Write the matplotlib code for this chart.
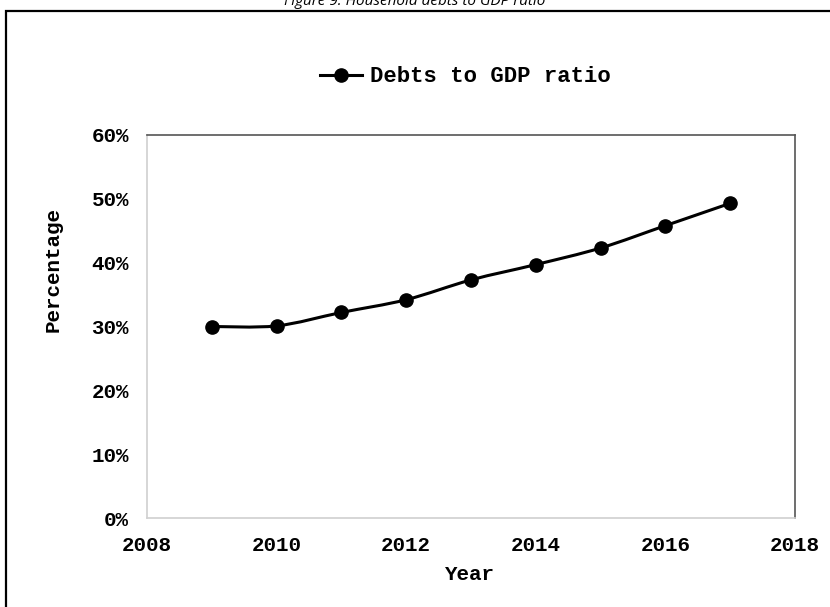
import numpy as np
import matplotlib
matplotlib.use("Agg")
import matplotlib.pyplot as plt
from matplotlib.path import Path
from matplotlib.patches import PathPatch, Rectangle
from matplotlib.lines import Line2D
from matplotlib.ticker import FuncFormatter

# data
years = [2009, 2010, 2011, 2012, 2013, 2014, 2015, 2016, 2017]
debt_ratio = [0.300, 0.301, 0.322, 0.342, 0.373, 0.397, 0.423, 0.458, 0.493]
series_name = "Debts to GDP ratio"
title = "Figure 9: Household debts to GDP ratio"

mono = "Liberation Mono"

fig = plt.figure(figsize=(8.3, 6.07), dpi=100)
ax = fig.add_axes([147 / 830, 1 - 518 / 607, (795 - 147) / 830, (518 - 135) / 607])

# smoothed line like the spreadsheet "smoothed line" option (bezier through the points)
x = np.array(years, dtype=float)
y = np.array(debt_ratio, dtype=float)
verts = [(x[0], y[0])]
codes = [Path.MOVETO]
for i in range(len(x) - 1):
    p0 = np.array([x[max(i - 1, 0)], y[max(i - 1, 0)]])
    p1 = np.array([x[i], y[i]])
    p2 = np.array([x[i + 1], y[i + 1]])
    p3 = np.array([x[min(i + 2, len(x) - 1)], y[min(i + 2, len(x) - 1)]])
    c1 = p1 + (p2 - p0) / 6
    c2 = p2 - (p3 - p1) / 6
    verts += [tuple(c1), tuple(c2), tuple(p2)]
    codes += [Path.CURVE4] * 3
ax.add_patch(PathPatch(Path(verts, codes), facecolor="none", edgecolor="black",
                       lw=2.2, capstyle="round", joinstyle="round"))
ax.plot(years, debt_ratio, ls="none", marker="o", ms=9.5, color="black")

ax.set_xlim(2008, 2018)
ax.set_ylim(0, 0.6)
ax.set_xticks(range(2008, 2019, 2))
ax.set_yticks(np.arange(0, 0.61, 0.1))
ax.yaxis.set_major_formatter(FuncFormatter(lambda v, p: f"{v * 100:.0f}%"))
ax.tick_params(length=0, pad=13, labelsize=15)
for lab in ax.get_xticklabels() + ax.get_yticklabels():
    lab.set_fontfamily(mono)
    lab.set_fontweight("bold")

ax.spines["left"].set_color("#d0d0d0")
ax.spines["bottom"].set_color("#d0d0d0")
ax.spines["top"].set_color("#555555")
ax.spines["right"].set_color("#555555")
for s in ax.spines.values():
    s.set_linewidth(1.2)

ax.set_xlabel("Year", fontfamily=mono, fontweight="bold", fontsize=15)
ax.set_ylabel("Percentage", fontfamily=mono, fontweight="bold", fontsize=15)
ax.xaxis.set_label_coords((470 - 147) / 648, (518 - 574) / 383)
ax.yaxis.set_label_coords((53 - 147) / 648, (518 - 269) / 383)
ax.xaxis.label.set_va("center")
ax.yaxis.label.set_va("center")

handle = Line2D([], [], color="black", lw=2.2, marker="o", ms=9.5)
fig.legend([handle], [series_name], loc="center", bbox_to_anchor=(465 / 830, 1 - 77 / 607),
           frameon=False, handlelength=1.9, handletextpad=0.35,
           prop={"family": mono, "weight": "bold", "size": 16})

# outer border, cut by the image edge on the right and bottom
fig.patches.append(Rectangle((6 / 830, -0.1), 1.2, 1.1 - 11 / 607, transform=fig.transFigure,
                             fill=False, edgecolor="black", lw=1.6, clip_on=False))

fig.text(0.5, 1 - 9 / 607, title, ha="center", va="bottom", fontsize=11,
         fontstyle="italic", fontfamily="Open Sans")

fig.savefig("out.png", dpi=100)
